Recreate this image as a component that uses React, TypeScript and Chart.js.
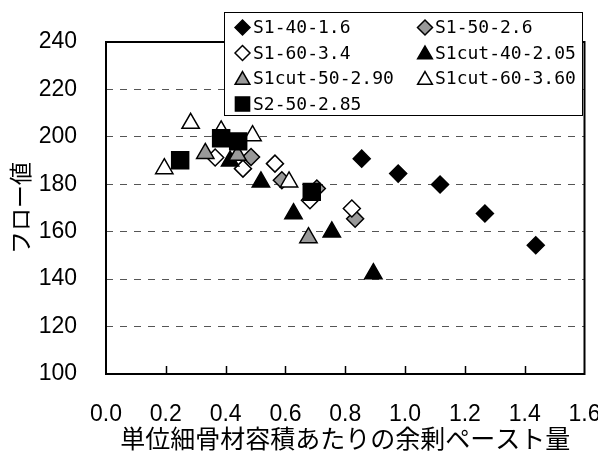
import React, { useEffect, useRef } from 'react';
import { Chart, registerables } from 'chart.js';
import { drawPoint } from 'chart.js/helpers';

Chart.register(...registerables);

// ---- data ----
const xTickValues = [0, 0.2, 0.4, 0.6, 0.8, 1.0, 1.2, 1.4, 1.6];
const xTickLabels = ['0.0', '0.2', '0.4', '0.6', '0.8', '1.0', '1.2', '1.4', '1.6'];
const yTickLabels = ['100', '120', '140', '160', '180', '200', '220', '240'];

const seriesLabels = [
  'S1-40-1.6',
  'S1-50-2.6',
  'S1-60-3.4',
  'S1cut-40-2.05',
  'S1cut-50-2.90',
  'S1cut-60-3.60',
  'S2-50-2.85',
];

const s1_40_x = [0.855, 0.977, 1.117, 1.267, 1.437];
const s1_40_y = [190.8, 184.5, 179.9, 167.7, 154.3];

const s1_50_x = [0.485, 0.588, 0.705, 0.833];
const s1_50_y = [191.5, 181.7, 178.2, 165.5];

const s1_60_x = [0.365, 0.458, 0.565, 0.682, 0.822];
const s1_60_y = [191.3, 186.6, 188.7, 173.3, 169.8];

const s1cut_40_x = [0.415, 0.518, 0.627, 0.755, 0.894];
const s1cut_40_y = [189.8, 181.0, 167.6, 159.9, 142.3];

const s1cut_50_x = [0.332, 0.44, 0.677];
const s1cut_50_y = [193.0, 192.2, 157.5];

const s1cut_60_x = [0.195, 0.283, 0.385, 0.49, 0.612];
const s1cut_60_y = [186.6, 205.7, 202.5, 200.5, 181.0];

const s2_50_x = [0.248, 0.385, 0.442, 0.688];
const s2_50_y = [190.1, 199.4, 198.1, 176.8];

const seriesX = [s1_40_x, s1_50_x, s1_60_x, s1cut_40_x, s1cut_50_x, s1cut_60_x, s2_50_x];
const seriesY = [s1_40_y, s1_50_y, s1_60_y, s1cut_40_y, s1cut_50_y, s1cut_60_y, s2_50_y];

// ---- styles ----
const GRAY = '#999999';
const seriesStyles = [
  { pointStyle: 'rectRot', fill: '#000000', r: 8.5, lr: 7.5 },
  { pointStyle: 'rectRot', fill: GRAY, r: 8.5, lr: 7.5 },
  { pointStyle: 'rectRot', fill: '#ffffff', r: 8.5, lr: 7.5 },
  { pointStyle: 'triangle', fill: '#000000', r: 10, lr: 8.5 },
  { pointStyle: 'triangle', fill: GRAY, r: 10, lr: 8.5 },
  { pointStyle: 'triangle', fill: '#ffffff', r: 10, lr: 8.5 },
  { pointStyle: 'rect', fill: '#000000', r: 12, lr: 10 },
];

const framePlugin = {
  id: 'frame',
  beforeDatasetsDraw(chart: any) {
    const { ctx, chartArea } = chart;
    const xs = chart.scales.x;
    ctx.save();
    ctx.strokeStyle = '#000';
    ctx.lineWidth = 1.5;
    xTickValues.forEach((v, i) => {
      if (i === 0 || i === xTickValues.length - 1) return;
      const px = Math.round(xs.getPixelForValue(v)) + 0.5;
      ctx.beginPath();
      ctx.moveTo(px, chartArea.bottom);
      ctx.lineTo(px, chartArea.bottom - 8);
      ctx.stroke();
    });
    ctx.lineWidth = 2;
    ctx.strokeRect(chartArea.left, chartArea.top, chartArea.right - chartArea.left, chartArea.bottom - chartArea.top);
    ctx.restore();
  },
};

const legendPlugin = {
  id: 'boxLegend',
  afterDraw(chart: any) {
    const { ctx } = chart;
    const bx = 224.5, by = 12.5, bw = 358, bh = 103;
    ctx.save();
    ctx.fillStyle = '#fff';
    ctx.fillRect(bx, by, bw, bh);
    ctx.strokeStyle = '#000';
    ctx.lineWidth = 1;
    ctx.strokeRect(bx, by, bw, bh);
    const colMarker = [242.5, 425];
    const colText = [253, 435];
    const rowY = [27.5, 53, 78.5, 104];
    ctx.font = '18px "DejaVu Sans Mono"';
    ctx.textBaseline = 'middle';
    ctx.textAlign = 'left';
    chart.data.datasets.forEach((ds: any, i: number) => {
      const col = i % 2;
      const row = Math.floor(i / 2);
      const st = seriesStyles[i];
      ctx.fillStyle = st.fill;
      ctx.strokeStyle = '#000';
      ctx.lineWidth = 1.5;
      let cy = rowY[row];
      if (st.pointStyle === 'triangle') cy += 1.5;
      drawPoint(ctx, { pointStyle: st.pointStyle, radius: st.lr, rotation: 0, borderWidth: 1.5 }, colMarker[col], cy);
      ctx.fillStyle = '#000';
      ctx.fillText(ds.label, colText[col], rowY[row] + 1);
    });
    ctx.restore();
  },
};

export default function App() {
  const ref = useRef<HTMLCanvasElement>(null);

  useEffect(() => {
    if (!ref.current) return;
    const datasets = seriesLabels.map((label, i) => {
      const st = seriesStyles[i];
      return {
        label,
        data: seriesX[i].map((x, j) => ({ x, y: seriesY[i][j] })),
        pointStyle: st.pointStyle,
        pointRadius: st.r,
        pointHoverRadius: st.r,
        backgroundColor: st.fill,
        borderColor: '#000000',
        borderWidth: 1.5,
        showLine: false,
        order: seriesLabels.length - 1 - i,
      };
    });

    const chart = new Chart(ref.current, {
      type: 'scatter',
      data: { datasets } as any,
      options: {
        responsive: false,
        animation: false,
        devicePixelRatio: 1,
        layout: { padding: { top: 42, right: 13, left: 0, bottom: 0 } },
        plugins: {
          legend: { display: false },
          tooltip: { enabled: false },
        },
        scales: {
          x: {
            type: 'linear',
            min: 0,
            max: 1.6,
            afterBuildTicks(scale: any) {
              scale.ticks = xTickValues.map((v) => ({ value: v }));
            },
            afterFit(scale: any) {
              scale.height = 87;
              scale.paddingLeft = 0;
              scale.paddingRight = 0;
            },
            grid: { display: false },
            border: { display: false },
            ticks: {
              padding: 19,
              color: '#000',
              maxRotation: 0,
              autoSkip: false,
              font: { family: '"Liberation Sans", Arial, sans-serif', size: 23 },
              callback: (v: any) => {
                const idx = xTickValues.findIndex((t) => Math.abs(t - Number(v)) < 1e-6);
                return idx >= 0 ? xTickLabels[idx] : '';
              },
            },
            title: {
              display: true,
              text: '単位細骨材容積あたりの余剰ペースト量',
              color: '#000',
              font: { family: '"Noto Sans CJK JP", sans-serif', size: 25, lineHeight: 1.2 },
              padding: { top: 0, bottom: 8 },
            },
          },
          y: {
            type: 'linear',
            min: 100,
            max: 240,
            afterBuildTicks(scale: any) {
              scale.ticks = yTickLabels.map((t) => ({ value: Number(t) }));
            },
            afterFit(scale: any) {
              scale.width = 106;
              scale.paddingTop = 0;
              scale.paddingBottom = 0;
            },
            grid: {
              drawTicks: false,
              lineWidth: 1,
              color: (ctx: any) => {
                const v = ctx.tick && ctx.tick.value;
                return v === 100 || v === 240 ? 'rgba(0,0,0,0)' : '#555555';
              },
            },
            border: { display: false, dash: [7, 7] },
            ticks: {
              padding: 29,
              color: '#000',
              autoSkip: false,
              font: { family: '"Liberation Sans", Arial, sans-serif', size: 23 },
              callback: (v: any) => {
                const idx = yTickLabels.findIndex((t) => Number(t) === Number(v));
                return idx >= 0 ? yTickLabels[idx] : '';
              },
            },
            title: {
              display: true,
              text: 'フロー値',
              color: '#000',
              font: { family: '"Noto Sans CJK JP", sans-serif', size: 23, lineHeight: 1.2 },
              padding: { top: 6, bottom: 0 },
            },
          },
        },
      },
      plugins: [framePlugin, legendPlugin],
    } as any);

    return () => chart.destroy();
  }, []);

  return (
    <div style={{ position: 'absolute', left: 0, top: 0, width: 598, height: 461, background: '#fff' }}>
      <canvas ref={ref} width={598} height={461} style={{ display: 'block', width: 598, height: 461 }} />
    </div>
  );
}
